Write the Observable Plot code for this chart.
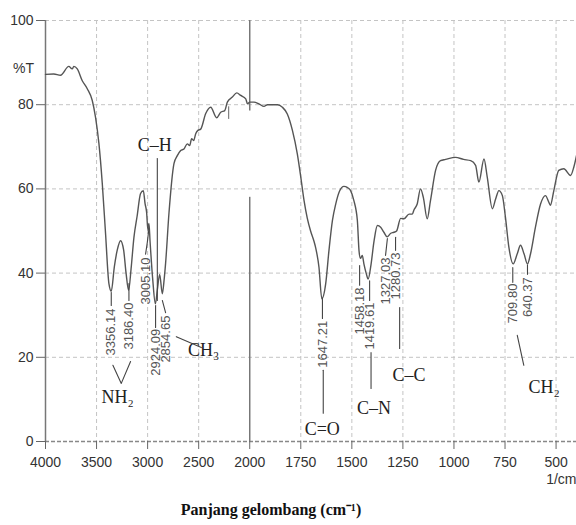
<!DOCTYPE html>
<html><head><meta charset="utf-8">
<script src="https://cdn.jsdelivr.net/npm/d3@7"></script>
<script src="https://cdn.jsdelivr.net/npm/@observablehq/plot@0.6"></script>
<style>body{margin:0;background:#fff}</style>
</head><body><div id="chart"></div>
<script>
// Spectrum (wavenumber cm-1, %T)
const wavenumbers = [4000,3919,3853,3772,3738,3723,3689,3640,3591,3542,3510,3477,3444,3412,3379,3356,3326,3297,3265,3235,3211,3186,3162,3134,3103,3069,3042,3025,3010,2997,2987,2976,2950,2924,2905,2882,2856,2838,2824,2791,2742,2709,2676,2644,2611,2588,2569,2549,2529,2507,2480,2431,2382,2324,2284,2245,2219,2170,2127,2088,2039,2022,2000,1979,1955,1930,1913,1864,1840,1816,1791,1767,1750,1734,1718,1702,1685,1677,1661,1647,1628,1612,1595,1579,1560,1539,1521,1506,1490,1473,1465,1458,1449,1441,1430,1420,1408,1391,1375,1359,1343,1327,1311,1294,1281,1261,1245,1220,1204,1196,1180,1164,1150,1131,1115,1090,1066,1041,992,953,918,894,878,853,837,812,796,780,763,748,731,710,690,674,657,640,625,601,576,552,536,528,511,487,462,429,413,400];
const transmittance = [87.2,87.3,87.0,89.1,88.5,89.1,88.5,85.7,83.8,81.0,77.0,70.8,61.3,49.4,37.5,35.7,41.5,45.5,47.7,45.5,40.0,35.9,41.0,48.5,53.5,58.9,59.6,56.5,54.5,50.2,51.8,47.5,38.5,32.7,36.0,39.7,35.1,38.5,42.3,54.2,66.0,67.9,69.1,69.5,70.7,70.3,71.9,71.5,73.1,73.9,74.2,77.9,79.4,76.9,78.2,78.6,80.6,81.8,82.8,82.2,81.4,80.2,80.6,80.6,80.2,79.6,80.0,80.0,79.4,77.8,73.9,68.3,62.8,57.2,53.0,50.0,47.5,46.0,41.4,33.9,37.5,45.4,52.5,56.4,59.5,60.6,60.3,59.6,57.2,52.5,45.4,43.5,44.2,42.2,40.0,38.6,41.4,47.7,51.3,50.9,49.7,48.6,49.4,49.7,50.0,53.0,52.9,54.0,54.0,55.0,56.4,60.0,58.0,52.9,57.2,64.4,66.7,67.0,67.5,67.0,66.7,65.6,61.6,67.1,62.8,55.3,57.6,59.6,58.4,53.3,46.1,42.2,44.6,46.6,44.6,42.2,44.6,50.9,56.4,58.4,56.9,56.1,59.6,64.4,64.8,63.2,65.2,67.9];

const xTicks = [4000,3500,3000,2500,2000,1750,1500,1250,1000,750,500];
const xGrid = [3500,3000,2500,1750,1500,1250,1000,750,500];
const yTicks = [0,20,40,60,80,100];

// Peak labels
const peakLabels = ["3356.14","3186.40","3005.10","2924.09","2854.65","1647.21","1458.18","1419.61","1327.03","1280.73","709.80","640.37"];
const peakLabelX = [3356,3183,3020,2922,2824,1644,1462,1413,1335,1286,712,640];
const peakLabelTop = [31.6,33.0,43.7,26.8,29.9,28.7,36.6,33.0,43.7,44.9,37.5,39.0];
const peakLeaders = [
  [[3356,35.4],[3356,32.3]],
  [[3183,37.5],[3183,33.5]],
  [[2987,50.6],[3003,47.3],[3020,44.5]],
  [[2922,32.3],[2922,27.1]],
  [[2856,33.5],[2824,30.6]],
  [[1644,34.0],[1644,29.2]],
  [[1462,41.8],[1462,37.1]],
  [[1413,38.2],[1413,33.5]],
  [[1326,48.2],[1335,44.2]],
  [[1286,48.5],[1286,45.4]],
  [[712,41.3],[712,37.8]],
  [[640,42.0],[640,39.7]]
];

// Functional group labels
const groupLabels = ["C–H","NH₂","CH₃","C=O","C–N","C–C","CH₂"];
const groupX = [2931,3294,2451,1645,1392,1220,559];
const groupY = [70.3,10.5,21.6,3.0,7.8,15.7,12.8];
const groupAnchor = ["middle","middle","start","middle","middle","middle","middle"];
const groupLeaders = [
  [[2905,67.2],[2905,33.5]],
  [[3340,18.1],[3258,13.8],[3167,19.0]],
  [[2719,24.9],[2474,22.3]],
  [[1640,16.9],[1640,6.7]],
  [[1406,21.1],[1406,12.6]],
  [[1266,31.8],[1266,22.1]],
  [[690,25.2],[658,18.1]]
];

const spectrum = wavenumbers.map((w, i) => ({w, t: transmittance[i]}));
const peaks = peakLabels.map((label, i) => ({label, x: peakLabelX[i], y: peakLabelTop[i]}));
const groups = groupLabels.map((label, i) => ({label, x: groupX[i], y: groupY[i], a: groupAnchor[i]}));
const toPts = (arr, prefix) => arr.flatMap((pts, i) => pts.map(([x, y]) => ({id: prefix + i, x, y})));
const leaderPts = [...toPts(peakLeaders, "p"), ...toPts(groupLeaders, "g")];

// IR axis: scale doubles below 2000 cm-1
const irTransform = (w) => (w >= 2000 ? 4000 - w : 2000 + (2000 - w) * 2);

const serif = "'Liberation Serif', 'Times New Roman', serif";
const sans = "'Liberation Sans', Arial, sans-serif";

const chart = Plot.plot({
  width: 576,
  height: 525,
  marginLeft: 45,
  marginRight: 0,
  marginTop: 20,
  marginBottom: 84,
  style: {fontFamily: sans, fontSize: "14px", color: "#333", background: "#fff"},
  x: {transform: irTransform, domain: [0, 5200], range: [45, 576]},
  y: {domain: [0, 100]},
  marks: [
    Plot.gridX(xGrid, {stroke: "#c4c4c4", strokeOpacity: 1, strokeDasharray: "4,3"}),
    Plot.gridY([20,40,60,80,100], {stroke: "#c4c4c4", strokeOpacity: 1, strokeDasharray: "4,3"}),
    Plot.ruleY([0], {stroke: "#888", strokeDasharray: "4,2", strokeWidth: 1.5}),
    Plot.ruleX([4000], {stroke: "#777", strokeWidth: 1.5}),
    Plot.ruleX([{y1: 78.5, y2: 100}, {y1: 0, y2: 58}], {x: () => 2000, y1: "y1", y2: "y2", stroke: "#777", strokeWidth: 1.5}),
    Plot.ruleX([{y1: 76.5, y2: 79.5}], {x: () => 2206, y1: "y1", y2: "y2", stroke: "#666", strokeWidth: 1}),
    Plot.axisX(xTicks, {tickSize: 8, tickPadding: 8, fontSize: 14, label: null, stroke: "#666", fill: "#333", tickFormat: (d) => String(d)}),
    Plot.axisY(yTicks, {tickSize: 9, tickPadding: 3, fontSize: 14, label: null, stroke: "#666", fill: "#333"}),
    Plot.line(spectrum, {x: "w", y: "t", stroke: "#555", strokeWidth: 1.4, curve: "monotone-x"}),
    Plot.line(leaderPts, {x: "x", y: "y", z: "id", stroke: "#444", strokeWidth: 1.1}),
    Plot.text(peaks, {x: "x", y: "y", text: "label", rotate: -90, textAnchor: "end", fontSize: 13, fontFamily: sans, fill: "#555"}),
    Plot.text(groups, {x: "x", y: "y", text: "label", textAnchor: "a", fontSize: 18, fontFamily: serif, fill: "#222"}),
    Plot.text(["%T"], {frameAnchor: "top-left", dx: -22, dy: 43, textAnchor: "middle", fontSize: 14, fill: "#333"}),
    Plot.text(["1/cm"], {frameAnchor: "bottom-right", dy: 42, textAnchor: "end", fontSize: 14, fill: "#333"}),
    Plot.text(["Panjang gelombang (cm⁻¹)"], {frameAnchor: "bottom", dx: -40, dy: 73, fontSize: 16, fontWeight: "bold", fontFamily: serif, fill: "#111"})
  ]
});
document.getElementById("chart").appendChild(chart);
</script>
</body></html>
